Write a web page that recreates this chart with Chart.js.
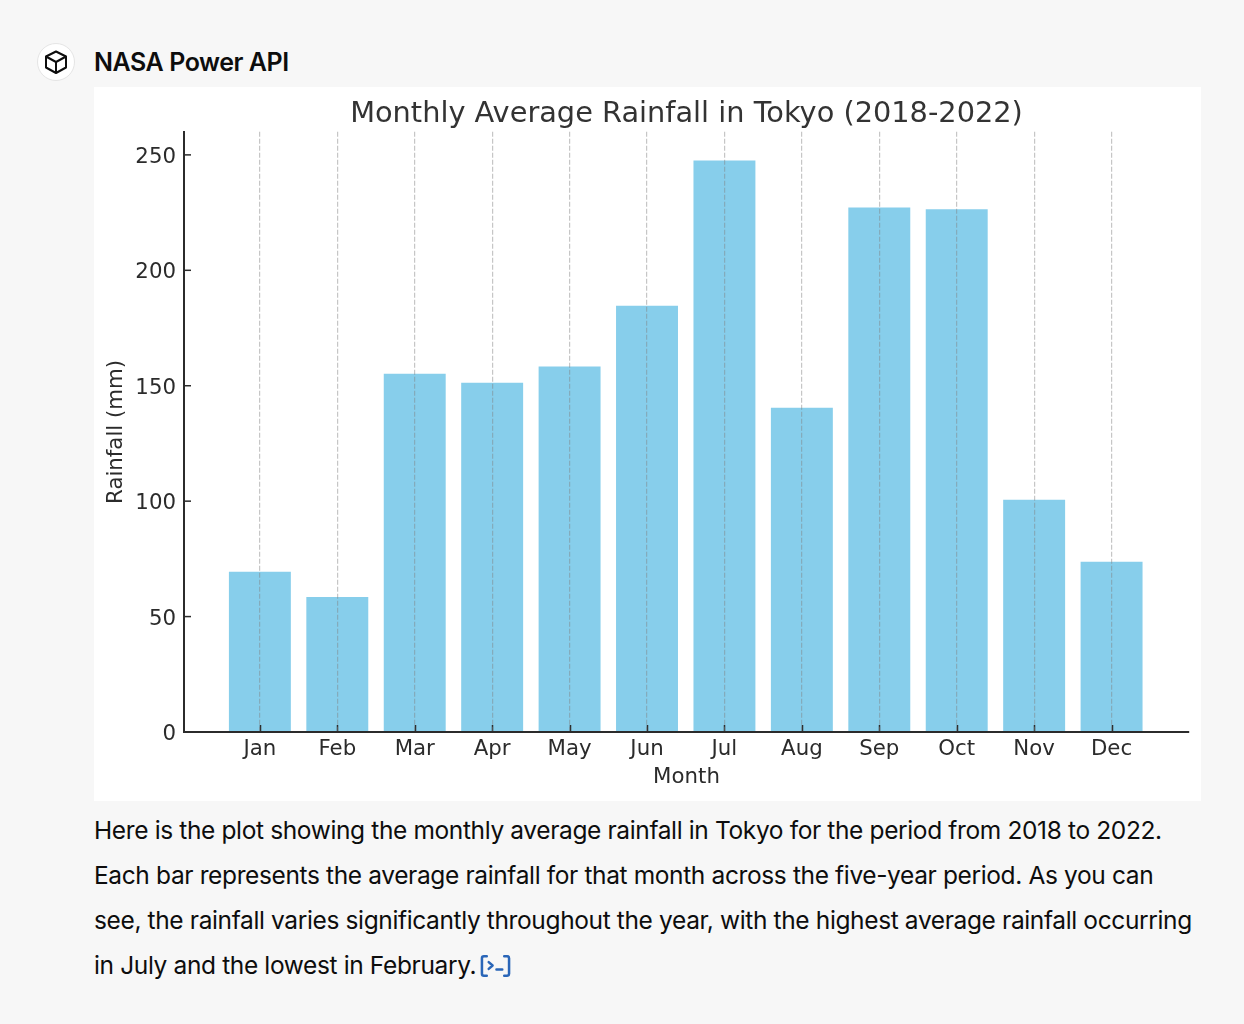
<!DOCTYPE html>
<html>
<head>
<meta charset="utf-8">
<script src="https://cdn.jsdelivr.net/npm/chart.js@4"></script>
<style>
html,body{margin:0;padding:0;background:#f7f7f7;width:1244px;height:1024px;overflow:hidden}
body{position:relative;font-family:Inter,"Noto Sans",sans-serif;color:#0d0d0d}
#avatar{position:absolute;left:37px;top:43px;width:36px;height:36px;border:1px solid #e5e5e5;border-radius:50%;background:#fff;display:flex;align-items:center;justify-content:center}
#name{position:absolute;left:94px;top:46px;font-size:25px;line-height:32px;font-weight:600;letter-spacing:-0.45px;color:#0d0d0d;white-space:nowrap}
#box{position:absolute;left:94px;top:87px;width:1107px;height:714px;background:#fff}
#box canvas{display:block}
#text{position:absolute;left:94px;top:808px;width:1120px;font-size:24.5px;line-height:45px;letter-spacing:-0.37px;color:#0d0d0d}
#text div{white-space:nowrap}
#text svg{vertical-align:-4px;margin-left:4px}
</style>
</head>
<body>
<div id="avatar"><svg width="24" height="26" viewBox="0 0 24 26" fill="none" stroke="#0d0d0d" stroke-width="2" stroke-linejoin="round"><path d="M12 2.5 L22 7.5 V18.5 L12 24 L2 18.5 V7.5 Z"/><path d="M2 7.5 L12 13 L22 7.5 M12 13 V24"/></svg></div>
<div id="name">NASA Power API</div>
<div id="box"><canvas id="c" width="1107" height="714"></canvas></div>
<div id="text">
<div>Here is the plot showing the monthly average rainfall in Tokyo for the period from 2018 to 2022.</div>
<div>Each bar represents the average rainfall for that month across the five-year period. As you can</div>
<div>see, the rainfall varies significantly throughout the year, with the highest average rainfall occurring</div>
<div>in July and the lowest in February.<svg width="31" height="24" viewBox="0 0 32 24" fill="none" stroke="#2a66b8" stroke-width="2.6" stroke-linecap="round" stroke-linejoin="round"><path d="M7 2 H4 Q2 2 2 4 V20 Q2 22 4 22 H7 M25 2 H28 Q30 2 30 4 V20 Q30 22 28 22 H25"/><path d="M9 8 L13 11.5 L9 15 M17 15.5 H23"/></svg></div>
</div>
<script>
const months = ['Jan','Feb','Mar','Apr','May','Jun','Jul','Aug','Sep','Oct','Nov','Dec'];
const rainfall = [69.4,58.5,155.2,151.3,158.3,184.7,247.6,140.5,227.2,226.4,100.6,73.7];
const yTicks = [0,50,100,150,200,250];
const xMin = -0.98, xMax = 12, yMax = 260;
const ink = '#2b2b2b';

const inwardTicks = {
  id:'inwardTicks',
  afterDatasetsDraw(chart){
    const {ctx,scales:{x,y}} = chart;
    ctx.save();
    ctx.strokeStyle = ink; ctx.lineWidth = 1.5;
    x.ticks.forEach(t=>{const p=Math.round(x.getPixelForValue(t.value))+0.5;ctx.beginPath();ctx.moveTo(p,y.bottom);ctx.lineTo(p,y.bottom-7);ctx.stroke();});
    y.ticks.forEach(t=>{const p=y.getPixelForValue(t.value);ctx.beginPath();ctx.moveTo(x.left,p);ctx.lineTo(x.left+7,p);ctx.stroke();});
    ctx.restore();
  }
};

new Chart(document.getElementById('c'),{
  type:'bar',
  plugins:[inwardTicks],
  data:{datasets:[{
    data:months.map((m,i)=>({x:i,y:rainfall[i]})),
    backgroundColor:'#87ceeb',
    barPercentage:0.8,categoryPercentage:1
  }]},
  options:{
    responsive:false,animation:false,
    layout:{padding:{left:0,right:12,top:0,bottom:0}},
    plugins:{
      legend:{display:false},tooltip:{enabled:false},
      title:{display:true,fullSize:false,text:'Monthly Average Rainfall in Tokyo (2018-2022)',color:'#333333',
        font:{family:'DejaVu Sans',size:28.8,weight:'normal',lineHeight:1},padding:{top:13,bottom:3}}
    },
    scales:{
      x:{type:'linear',offset:false,min:xMin,max:xMax,
        afterBuildTicks(s){s.ticks=months.map((m,i)=>({value:i}));},
        afterFit(s){s.height=69;},
        ticks:{autoSkip:false,maxRotation:0,color:ink,padding:5,font:{family:'DejaVu Sans',size:21.3},callback:v=>months[v]},
        grid:{display:true,offset:false,drawTicks:false,z:1,color:'rgba(128,128,128,0.45)',lineWidth:1.2},
        border:{display:true,color:ink,width:2,dash:[5,2],z:1},
        title:{display:true,text:'Month',color:ink,font:{family:'DejaVu Sans',size:21.3},padding:{top:0,bottom:11}}
      },
      y:{min:0,max:yMax,
        afterBuildTicks(s){s.ticks=yTicks.map(v=>({value:v}));},
        afterFit(s){s.width=90;},
        ticks:{color:ink,padding:8,labelOffset:2.5,font:{family:'DejaVu Sans',size:21.3}},
        grid:{display:false,drawTicks:false},
        border:{display:true,color:ink,width:2},
        title:{display:true,text:'Rainfall (mm)',color:ink,font:{family:'DejaVu Sans',size:21.3},padding:{top:10,bottom:0}}
      }
    }
  }
});
</script>
</body>
</html>
